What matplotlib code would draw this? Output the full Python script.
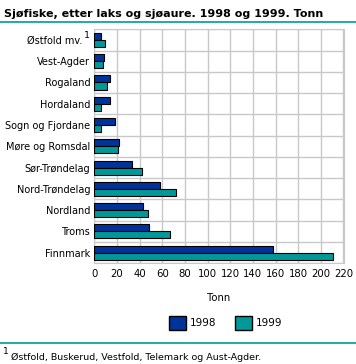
import numpy as np
import matplotlib.pyplot as plt
from matplotlib.patches import Patch

# data
fylker = ['Østfold mv.', 'Vest-Agder', 'Rogaland', 'Hordaland', 'Sogn og Fjordane',
          'Møre og Romsdal', 'Sør-Trøndelag', 'Nord-Trøndelag', 'Nordland', 'Troms', 'Finnmark']
tonn_1998 = [6, 9, 14, 14, 18.5, 22, 33, 58, 43, 48, 158]
tonn_1999 = [9.5, 8, 11.5, 6, 6, 21, 42.5, 72.5, 47, 67, 210.5]
xticks = list(range(0, 221, 20))

c98 = '#003399'
c99 = '#009999'
grid = '#c8c8c8'

fig = plt.figure(figsize=(3.56, 3.64), dpi=100)
W, H = 356, 364
ax = fig.add_axes([94.3 / W, 1 - 263.3 / H, (343.5 - 94.3) / W, (263.3 - 29.3) / H])

y = np.arange(len(fylker))
bh = 0.33
ax.barh(y - bh / 2, tonn_1998, height=bh, color=c98, edgecolor='black', linewidth=0.8, zorder=3)
ax.barh(y + bh / 2, tonn_1999, height=bh, color=c99, edgecolor='black', linewidth=0.8, zorder=3)

ax.set_xlim(0, 220)
ax.set_ylim(len(fylker) - 0.5, -0.5)
ax.set_xticks(xticks)
ax.set_xticklabels([str(v) for v in xticks], fontsize=7.3)
ax.set_yticks(y)
ax.set_yticklabels(fylker, fontsize=7)
ax.set_yticks(np.arange(-0.5, len(fylker), 1), minor=True)
ax.tick_params(which='both', length=0)
ax.tick_params(axis='y', pad=3)
ax.tick_params(axis='x', pad=4)
ax.yaxis.get_major_ticks()[0].set_pad(8.5)
ax.grid(axis='x', color=grid, linewidth=1, zorder=0)
ax.grid(axis='y', which='minor', color=grid, linewidth=1, zorder=0)
for s in ax.spines.values():
    s.set_color(grid)
ax.set_xlabel('Tonn', fontsize=7.3, labelpad=10)
# footnote mark after "Østfold mv."
ax.annotate('1', xy=(0, 0), xycoords=('axes fraction', 'data'), xytext=(-5, 3),
            textcoords='offset points', fontsize=6.8, ha='center', va='center')

fig.text(4 / W, 1 - 14 / H, 'Sjøfiske, etter laks og sjøaure. 1998 og 1999. Tonn',
         fontsize=8, fontweight='bold', va='center')
fig.add_artist(plt.Line2D([0, 1], [1 - 21.7 / H] * 2, color=c99, linewidth=1.2))
fig.add_artist(plt.Line2D([0, 1], [1 - 342.7 / H] * 2, color=c99, linewidth=1.2))

fig.legend(handles=[Patch(facecolor=c98, edgecolor='black', label='1998'),
                    Patch(facecolor=c99, edgecolor='black', label='1999')],
           loc='center', bbox_to_anchor=(226 / W, 1 - 323 / H), ncol=2, frameon=False,
           fontsize=7.5, handlelength=1.6, handleheight=1.6, columnspacing=1.8, handletextpad=0.4)

fig.text(3 / W, 1 - 352 / H, '1', fontsize=6.5, va='center')
fig.text(11 / W, 1 - 357 / H, 'Østfold, Buskerud, Vestfold, Telemark og Aust-Agder.',
         fontsize=6.8, va='center')

fig.savefig('out.png', dpi=100)
